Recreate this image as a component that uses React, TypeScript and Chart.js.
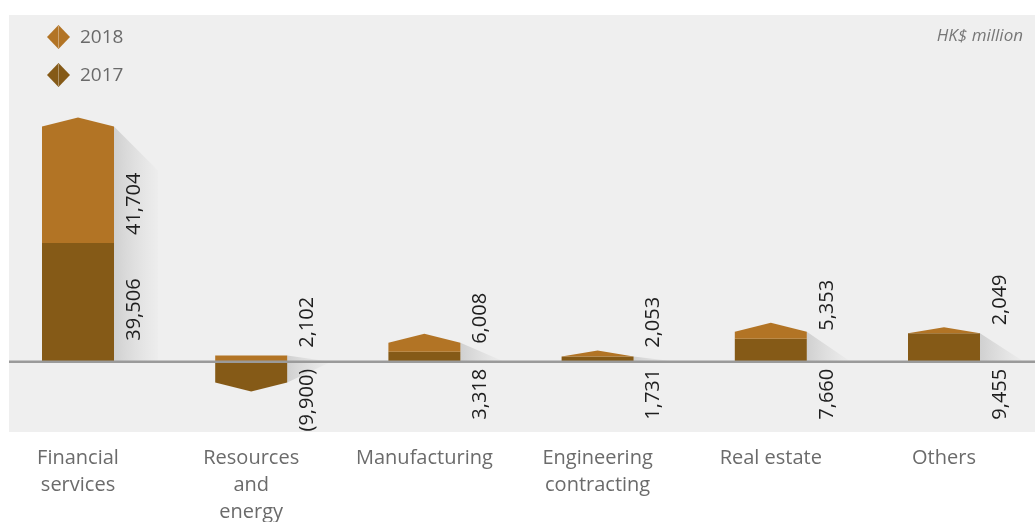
import React, { useEffect, useRef } from 'react';
import { Chart, registerables } from 'chart.js';

Chart.register(...registerables);

// ---------- data ----------
const categories: string[][] = [
  ['Financial', 'services'],
  ['Resources', 'and', 'energy'],
  ['Manufacturing'],
  ['Engineering', 'contracting'],
  ['Real estate'],
  ['Others'],
];
const series2017: number[] = [39506, -9900, 3318, 1731, 7660, 9455];
const series2018: number[] = [41704, 2102, 6008, 2053, 5353, 2049];
const seriesNames: string[] = ['2017', '2018'];
const unitLabel = 'HK$ million';

// ---------- styles ----------
const C_2018 = '#b27425';
const C_2017 = '#855a17';
const C_BG = '#efefef';
const C_ZERO = '#9a9a9a';
const FONT = '"Open Sans", "DejaVu Sans", sans-serif';
const ROOF = 9;
const SHADOW_W = 44;
const LABEL_DX = 20;

const fmt = (v: number) =>
  v < 0 ? `(${Math.abs(v).toLocaleString('en-US')})` : v.toLocaleString('en-US');

const decorPlugin = {
  id: 'decor',
  beforeDraw(chart: any) {
    const { ctx, chartArea: a } = chart;
    ctx.save();
    ctx.fillStyle = C_BG;
    ctx.fillRect(a.left, a.top, a.right - a.left, a.bottom - a.top);
    ctx.restore();
  },
  beforeDatasetDraw() {
    return false;
  },
  afterDatasetsDraw(chart: any) {
    const { ctx, chartArea: a } = chart;
    const yScale = chart.scales.y;
    const base0 = yScale.getPixelForValue(0);
    const dsets = chart.data.datasets;
    const metas = dsets.map((_: any, i: number) => chart.getDatasetMeta(i));
    const n = categories.length;

    const geoms: any[][] = [];
    for (let i = 0; i < n; i++) {
      const els = metas.map((m: any, di: number) => {
        const el = m.data[i].getProps(['x', 'y', 'base', 'width'], true);
        return { el, di, value: dsets[di].data[i].y, color: dsets[di].backgroundColor };
      });
      const pointed = els.reduce((p: any, q: any) =>
        Math.abs(q.el.y - base0) > Math.abs(p.el.y - base0) ? q : p
      );
      const g = els.map((e: any) => {
        const s = Math.sign(e.el.base - e.el.y) || 1;
        const h = Math.abs(e.el.y - e.el.base);
        const roof = e === pointed ? Math.min(ROOF, h) : 0;
        return { ...e, s, roof, shoulder: e.el.y + s * roof };
      });
      geoms.push(g);
    }

    // shadows
    for (const g of geoms) {
      for (const dir of [1, -1]) {
        const list = g.filter((e: any) => e.s === dir && Math.abs(e.el.y - e.el.base) > 0.5);
        if (!list.length) continue;
        const outer = list.reduce((p: any, q: any) =>
          Math.abs(q.el.y - base0) > Math.abs(p.el.y - base0) ? q : p
        );
        const R = outer.el.x + outer.el.width / 2;
        const sy = outer.shoulder;
        const h = Math.abs(base0 - sy);
        const drop = Math.min(SHADOW_W, h);
        const grad = ctx.createLinearGradient(R, 0, R + SHADOW_W, 0);
        grad.addColorStop(0, 'rgba(208,208,208,1)');
        grad.addColorStop(1, 'rgba(236,236,236,0.7)');
        ctx.save();
        ctx.fillStyle = grad;
        ctx.beginPath();
        ctx.moveTo(R, sy);
        ctx.lineTo(R + SHADOW_W, sy + dir * drop);
        ctx.lineTo(R + SHADOW_W, base0);
        ctx.lineTo(R, base0);
        ctx.closePath();
        ctx.fill();
        ctx.restore();
      }
    }

    // bars
    for (const g of geoms) {
      for (const e of g) {
        const { x, y, base, width } = e.el;
        const L = x - width / 2;
        const R = x + width / 2;
        ctx.save();
        ctx.fillStyle = e.color;
        ctx.beginPath();
        ctx.moveTo(L, base);
        ctx.lineTo(L, e.shoulder);
        if (e.roof > 0) ctx.lineTo(x, y);
        ctx.lineTo(R, e.shoulder);
        ctx.lineTo(R, base);
        ctx.closePath();
        ctx.fill();
        ctx.restore();
      }
    }

    // zero line
    ctx.save();
    ctx.strokeStyle = C_ZERO;
    ctx.lineWidth = 2.5;
    ctx.beginPath();
    ctx.moveTo(a.left, base0);
    ctx.lineTo(a.right, base0);
    ctx.stroke();
    ctx.restore();

    // value labels
    const drawRot = (txt: string, x: number, y: number, align: string) => {
      ctx.save();
      ctx.translate(x, y);
      ctx.rotate(-Math.PI / 2);
      ctx.font = `20px ${FONT}`;
      ctx.fillStyle = '#1e1e1e';
      ctx.textAlign = align;
      ctx.textBaseline = 'middle';
      ctx.fillText(txt, 0, 0);
      ctx.restore();
    };
    for (const g of geoms) {
      const dark = g[0];
      const light = g[1];
      const R = dark.el.x + dark.el.width / 2 + LABEL_DX;
      const darkUp = dark.value >= 0;
      // 2018 label
      if (light.value >= 0) {
        const yA = Math.min(base0 - 14, (darkUp ? dark.el.y : base0) - 8);
        drawRot(fmt(light.value), R, yA, 'left');
      } else {
        drawRot(fmt(light.value), R, base0 + 7, 'right');
      }
      // 2017 label
      if (darkUp && base0 - dark.el.y > 90) {
        drawRot(fmt(dark.value), R, base0 - 21, 'left');
      } else {
        drawRot(fmt(dark.value), R, base0 + 7, 'right');
      }
    }

    // legend (2018 first, then 2017)
    const legendItems = [
      { name: dsets[1].label, color: dsets[1].backgroundColor, cy: 37 },
      { name: dsets[0].label, color: dsets[0].backgroundColor, cy: 75 },
    ];
    for (const it of legendItems) {
      const cx = 58.5;
      ctx.save();
      ctx.fillStyle = it.color;
      ctx.beginPath();
      ctx.moveTo(cx, it.cy - 12);
      ctx.lineTo(cx + 11.5, it.cy);
      ctx.lineTo(cx, it.cy + 12);
      ctx.lineTo(cx - 11.5, it.cy);
      ctx.closePath();
      ctx.fill();
      ctx.strokeStyle = 'rgba(255,255,255,0.35)';
      ctx.lineWidth = 1;
      ctx.beginPath();
      ctx.moveTo(cx, it.cy - 11);
      ctx.lineTo(cx, it.cy + 11);
      ctx.stroke();
      ctx.font = `19px ${FONT}`;
      ctx.fillStyle = '#6a6a6a';
      ctx.textAlign = 'left';
      ctx.textBaseline = 'middle';
      ctx.fillText(it.name, 80, it.cy + 1);
      ctx.restore();
    }

    // unit label
    ctx.save();
    ctx.font = `italic 17px ${FONT}`;
    ctx.fillStyle = '#777777';
    ctx.textAlign = 'right';
    ctx.textBaseline = 'middle';
    ctx.fillText(unitLabel, 1023, 36);
    ctx.restore();
  },
};

export default function App() {
  const ref = useRef<HTMLCanvasElement | null>(null);

  useEffect(() => {
    if (!ref.current) return;
    const chart = new Chart(ref.current, {
      type: 'bar',
      data: {
        datasets: [
          {
            label: seriesNames[0],
            data: series2017.map((v, i) => ({ x: i, y: v })),
            backgroundColor: C_2017,
            barThickness: 72,
          },
          {
            label: seriesNames[1],
            data: series2018.map((v, i) => ({ x: i, y: v })),
            backgroundColor: C_2018,
            barThickness: 72,
          },
        ],
      },
      options: {
        responsive: false,
        animation: false,
        events: [],
        layout: { padding: { left: 9, top: 15, right: 0, bottom: 0 } },
        plugins: {
          legend: { display: false },
          tooltip: { enabled: false },
          title: { display: false },
        },
        scales: {
          x: {
            type: 'linear',
            stacked: true,
            offset: false,
            min: -0.3984,
            max: 5.5254,
            grid: { display: false, drawTicks: false, offset: false },
            border: { display: false },
            afterBuildTicks: (scale: any) => {
              scale.ticks = categories.map((_, i) => ({ value: i }));
            },
            afterFit: (scale: any) => {
              scale.height = 90;
            },
            ticks: {
              autoSkip: false,
              maxRotation: 0,
              minRotation: 0,
              padding: 13,
              color: '#6b6b6b',
              font: { family: FONT, size: 20, lineHeight: 1.35 },
              callback: (value: any) => categories[Math.round(Number(value))] ?? '',
            },
          },
          y: {
            display: false,
            stacked: true,
            min: -23350,
            max: 115330,
          },
        },
      },
      plugins: [decorPlugin],
    } as any);
    return () => chart.destroy();
  }, []);

  return (
    <div style={{ position: 'fixed', left: 0, top: 0, width: 1035, height: 522, background: '#ffffff' }}>
      <canvas ref={ref} width={1035} height={522} style={{ display: 'block' }} />
    </div>
  );
}
